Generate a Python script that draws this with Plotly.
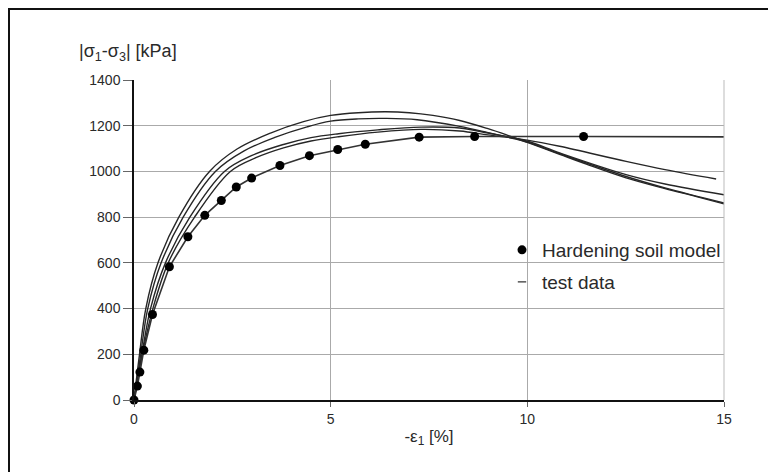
import plotly.graph_objects as go

# Hardening soil model (markers connected by a line; the line runs on to the right edge)
model_x = [0, 0.086, 0.15, 0.25, 0.47, 0.90, 1.37, 1.80, 2.22, 2.60, 2.99, 3.71, 4.46, 5.18, 5.88, 7.25, 8.66, 11.43]
model_y = [0, 61, 122, 218, 374, 583, 714, 808, 873, 932, 971, 1026, 1069, 1096, 1119, 1150, 1153, 1153]
model_line_end_x = 15.05
model_line_end_y = 1151

# Test data curves
t1_x = [0, 0.14, 0.30, 0.61, 1.14, 1.92, 2.62, 3.47, 4.31, 5, 5.7, 6.4, 7.0, 7.6, 8.28, 9, 9.5, 10, 10.82, 11.5, 12.51, 13.5, 14.3, 15]
t1_y = [0, 200, 400, 600, 800, 1000, 1098, 1168, 1218, 1245, 1257, 1261, 1257, 1245, 1223, 1187, 1158, 1127, 1075, 1032, 972, 925, 890, 858]
t2_x = [0, 0.17, 0.35, 0.69, 1.25, 2.07, 2.8, 3.6, 4.4, 5, 5.7, 6.4, 7.2, 8.28, 9, 9.5, 10, 10.82, 12.51, 13.5, 15]
t2_y = [0, 200, 400, 600, 800, 1000, 1090, 1150, 1195, 1220, 1230, 1232, 1226, 1197, 1170, 1150, 1128, 1078, 978, 928, 862]
t3_x = [0, 0.20, 0.42, 0.80, 1.42, 2.3, 3.0, 3.8, 4.5, 5.2, 6.2, 7.3, 8.28, 9, 10, 10.82, 12.51, 13.5, 15]
t3_y = [0, 200, 400, 600, 800, 1000, 1070, 1118, 1148, 1165, 1182, 1194, 1190, 1168, 1132, 1081, 986, 945, 898]
t4_x = [0, 0.21, 0.48, 0.87, 1.54, 2.45, 3.1, 3.8, 4.5, 5.2, 6.2, 7.3, 8.28, 9, 10, 10.82, 12.51, 13.5, 14.8]
t4_y = [0, 200, 400, 600, 800, 1000, 1060, 1103, 1133, 1152, 1172, 1184, 1177, 1160, 1137, 1110, 1044, 1008, 967]

x_ticks = [0, 5, 10, 15]
y_ticks = [0, 200, 400, 600, 800, 1000, 1200, 1400]

FONT = "Liberation Sans, Arial, sans-serif"
TXT = "#2a2a2a"

# page body has an 8px margin: margins are chosen so the plot sits at the same screen spot
ML, MR, MT, MB = 126, 60, 72, 80
PW = 776 - ML - MR
PH = 472 - MT - MB

fig = go.Figure()

for xs, ys in [(t1_x, t1_y), (t2_x, t2_y), (t3_x, t3_y), (t4_x, t4_y)]:
    fig.add_trace(go.Scatter(x=xs, y=ys, mode="lines",
                             line=dict(color="#262626", width=1.4, shape="spline", smoothing=1.0),
                             showlegend=False, hoverinfo="skip", cliponaxis=False))

fig.add_trace(go.Scatter(x=model_x + [model_line_end_x], y=model_y + [model_line_end_y], mode="lines",
                         line=dict(color="#333", width=1.6), showlegend=False, cliponaxis=False))
fig.add_trace(go.Scatter(x=model_x, y=model_y, mode="markers",
                         marker=dict(color="#000", size=9), showlegend=False, cliponaxis=False))

# legend entries
fig.add_trace(go.Scatter(x=[None], y=[None], mode="markers", marker=dict(color="#000", size=9),
                         name="Hardening soil model", legend="legend"))
fig.add_trace(go.Scatter(x=[None], y=[None], mode="markers",
                         marker=dict(symbol="line-ew", size=6, line=dict(width=1.5, color="#555")),
                         name="test data", legend="legend2"))

def px_to_paper_x(px):
    return (px - 8 - ML) / PW

def px_to_paper_y(py):
    return (472 - MB + 8 - py) / PH

fig.update_layout(
    width=776, height=472,
    margin=dict(l=ML, r=MR, t=MT, b=MB),
    paper_bgcolor="white", plot_bgcolor="white",
    font=dict(family=FONT, size=15, color=TXT),
    legend=dict(x=px_to_paper_x(502), y=px_to_paper_y(250), xanchor="left", yanchor="middle", itemwidth=30,
                bgcolor="rgba(0,0,0,0)", font=dict(size=19, color=TXT)),
    legend2=dict(x=px_to_paper_x(502), y=px_to_paper_y(282), xanchor="left", yanchor="middle", itemwidth=30,
                 bgcolor="rgba(0,0,0,0)", font=dict(size=19, color=TXT)),
    xaxis=dict(range=[0, 15], tickvals=x_ticks, ticktext=[str(v) for v in x_ticks],
               showgrid=True, gridcolor="#aaaaaa", gridwidth=1, zeroline=False,
               showline=True, linecolor="#111", linewidth=2,
               ticks="outside", ticklen=5, tickcolor="#666",
               tickfont=dict(size=14, color=TXT),
               title=dict(text="-ε<sub>1</sub> [%]", font=dict(size=17, color=TXT), standoff=4)),
    yaxis=dict(range=[0, 1400], tickvals=y_ticks, ticktext=[str(v) for v in y_ticks],
               showgrid=True, gridcolor="#aaaaaa", gridwidth=1, zeroline=False,
               showline=True, linecolor="#111", linewidth=1.5,
               ticks="outside", ticklen=9, tickcolor="#666",
               tickfont=dict(size=14, color=TXT)),
    annotations=[dict(text="|σ<sub>1</sub>-σ<sub>3</sub>| [kPa]", xref="paper", yref="paper",
                      x=px_to_paper_x(77), y=px_to_paper_y(53), xanchor="left", yanchor="middle",
                      showarrow=False, font=dict(size=18, color=TXT))],
    shapes=[dict(type="line", xref="paper", yref="paper", x0=1, x1=1, y0=0, y1=1,
                 line=dict(color="#bbbbbb", width=1)),
            dict(type="rect", xref="paper", yref="paper",
                 x0=px_to_paper_x(9), x1=px_to_paper_x(770), y0=px_to_paper_y(520), y1=px_to_paper_y(9),
                 line=dict(color="#111", width=2))],
)

fig.write_html("out.html")
